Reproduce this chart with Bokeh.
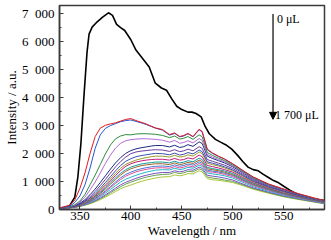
from bokeh.plotting import figure
from bokeh.models import FixedTicker, CustomJSTickFormatter, Arrow, NormalHead, Label
from bokeh.embed import file_html
from bokeh.resources import INLINE

# ---- data ----
black_wl = [330, 335, 340, 345, 348, 351, 354, 357, 359, 362, 367, 372, 378, 382, 386, 390, 394,
            400, 405, 410, 418, 424, 430, 435, 440, 445, 450, 456, 460, 464, 469, 473, 477, 483,
            488, 493, 499, 505, 510, 515, 520, 525, 530, 535, 540, 545, 550, 556, 560, 565, 570,
            575, 580, 585, 590]
black_int = [30, 60, 140, 440, 1150, 2350, 4050, 5600, 6250, 6500, 6690, 6850, 7010, 6920, 6600,
             6480, 6380, 6050, 5680, 5450, 5080, 4500, 4330, 4250, 3950, 3680, 3560, 3470, 3470,
             3420, 3300, 2950, 2700, 2500, 2400, 2310, 2150, 1920, 1700, 1510, 1420, 1380, 1250,
             1140, 1030, 950, 830, 690, 610, 510, 450, 420, 380, 350, 320]

wl = [330, 340, 345, 350, 355, 360, 365, 370, 375, 380, 385, 390, 395,
      400, 405, 410, 415, 420, 424, 431, 438, 443, 448, 452, 456, 461, 467, 470, 475,
      480, 486, 492, 500, 510, 520, 535, 550, 565, 580, 590]

c100 = [60, 150, 340, 750, 1300, 2000, 2600, 2900, 3000, 3050, 3090, 3150, 3210,
        3240, 3170, 3110, 3050, 2970, 2910, 2850, 2670, 2730, 2600, 2640, 2710, 2600, 2860, 2780, 2150,
        2020, 1900, 1800, 1630, 1390, 1160, 910, 730, 560, 410, 320]
c200 = [55, 120, 250, 480, 880, 1480, 2180, 2660, 2890, 2990, 3060, 3130, 3170,
        3190, 3140, 3090, 3030, 2960, 2900, 2830, 2650, 2710, 2590, 2620, 2700, 2590, 2840, 2760, 2130,
        2000, 1890, 1790, 1620, 1380, 1150, 900, 720, 550, 400, 315]
c300 = [50, 100, 170, 300, 540, 880, 1230, 1600, 1980, 2300, 2520, 2620, 2670,
        2660, 2690, 2700, 2700, 2690, 2680, 2640, 2560, 2620, 2510, 2540, 2600, 2500, 2660, 2590, 2030,
        1930, 1830, 1740, 1580, 1350, 1120, 880, 710, 540, 390, 305]
c400 = [48, 90, 150, 260, 440, 700, 980, 1300, 1640, 1940, 2190, 2360, 2450,
        2490, 2510, 2520, 2520, 2510, 2500, 2470, 2400, 2460, 2360, 2390, 2450, 2370, 2530, 2460, 1960,
        1870, 1780, 1700, 1550, 1320, 1100, 860, 690, 530, 385, 300]
c500 = [45, 85, 135, 220, 350, 530, 730, 960, 1200, 1440, 1660, 1850, 2000,
        2100, 2160, 2200, 2230, 2260, 2280, 2280, 2230, 2290, 2210, 2240, 2310, 2250, 2410, 2350, 1900,
        1820, 1740, 1660, 1520, 1300, 1080, 850, 680, 520, 380, 295]
c600 = [45, 80, 125, 200, 310, 460, 640, 850, 1070, 1300, 1520, 1710, 1870,
        1990, 2050, 2080, 2100, 2120, 2130, 2120, 2070, 2130, 2060, 2090, 2150, 2090, 2240, 2180, 1780,
        1720, 1650, 1580, 1460, 1250, 1040, 820, 660, 505, 370, 290]
c700 = [42, 75, 115, 180, 280, 410, 570, 760, 960, 1170, 1380, 1570, 1720,
        1810, 1880, 1920, 1950, 1980, 2000, 1990, 1950, 2010, 1940, 1970, 2030, 1980, 2120, 2060, 1700,
        1650, 1590, 1520, 1410, 1210, 1010, 800, 640, 490, 360, 285]
c800 = [42, 72, 110, 170, 260, 380, 530, 700, 890, 1090, 1290, 1470, 1610,
        1690, 1760, 1810, 1850, 1880, 1900, 1900, 1870, 1930, 1870, 1890, 1950, 1900, 2050, 1990, 1650,
        1600, 1550, 1480, 1380, 1180, 990, 780, 620, 480, 355, 275]
c900 = [40, 70, 105, 160, 245, 355, 490, 650, 830, 1020, 1210, 1390, 1540,
        1630, 1690, 1730, 1760, 1780, 1790, 1790, 1760, 1820, 1760, 1780, 1840, 1800, 1940, 1880, 1570,
        1530, 1480, 1420, 1330, 1140, 960, 760, 600, 465, 345, 270]
c1000 = [40, 68, 100, 150, 230, 330, 455, 600, 770, 950, 1130, 1290, 1420,
         1510, 1570, 1620, 1650, 1670, 1690, 1690, 1660, 1720, 1660, 1690, 1740, 1700, 1830, 1780, 1500,
         1460, 1420, 1370, 1280, 1100, 930, 740, 580, 450, 335, 262]
c1100 = [38, 66, 97, 145, 220, 315, 430, 570, 730, 900, 1070, 1230, 1360,
         1450, 1510, 1560, 1590, 1610, 1630, 1630, 1600, 1660, 1600, 1630, 1680, 1640, 1760, 1710, 1450,
         1420, 1380, 1330, 1240, 1070, 900, 720, 565, 440, 325, 255]
c1200 = [38, 64, 93, 138, 205, 290, 395, 520, 665, 820, 980, 1130, 1250,
         1330, 1400, 1450, 1490, 1520, 1540, 1550, 1530, 1590, 1540, 1570, 1620, 1580, 1700, 1650, 1400,
         1370, 1340, 1290, 1210, 1040, 880, 700, 550, 425, 315, 245]
c1300 = [36, 62, 90, 132, 195, 275, 375, 495, 630, 780, 930, 1070, 1190,
         1270, 1340, 1390, 1430, 1460, 1480, 1490, 1470, 1530, 1480, 1510, 1560, 1520, 1640, 1590, 1350,
         1330, 1300, 1250, 1170, 1010, 850, 680, 535, 410, 305, 238]
c1400 = [35, 60, 86, 125, 183, 255, 345, 455, 580, 715, 850, 980, 1080,
         1150, 1220, 1280, 1330, 1370, 1400, 1420, 1410, 1470, 1420, 1450, 1500, 1470, 1580, 1540, 1300,
         1270, 1240, 1200, 1120, 970, 810, 650, 510, 395, 292, 226]
c1500 = [34, 58, 82, 118, 170, 235, 315, 410, 520, 640, 760, 880, 970,
         1040, 1110, 1170, 1220, 1260, 1290, 1320, 1320, 1380, 1340, 1370, 1420, 1400, 1510, 1470, 1220,
         1190, 1160, 1120, 1050, 910, 770, 620, 485, 380, 282, 218]
c1600 = [33, 56, 80, 114, 162, 222, 295, 385, 485, 595, 705, 815, 905,
         975, 1040, 1100, 1150, 1190, 1220, 1250, 1260, 1320, 1280, 1310, 1360, 1340, 1450, 1410, 1160,
         1120, 1090, 1050, 1000, 880, 750, 600, 470, 365, 272, 210]
c1700 = [32, 54, 76, 108, 152, 206, 272, 350, 440, 540, 640, 740, 815,
         870, 940, 1000, 1050, 1090, 1120, 1160, 1170, 1230, 1200, 1230, 1280, 1270, 1380, 1340, 1100,
         1060, 1040, 1010, 960, 850, 720, 580, 450, 352, 262, 203]

series = [c100, c200, c300, c400, c500, c600, c700, c800, c900, c1000,
          c1100, c1200, c1300, c1400, c1500, c1600, c1700]
colors = ["#e41a1c", "#2456d6", "#2e8b3e", "#b36ad6", "#1f2a80", "#6b3fa0", "#3a4fb0",
          "#9a9a2a", "#c2187c", "#1a9a9a", "#a0622a", "#4b78d0", "#e0509a", "#20b8c8",
          "#7a50c0", "#6aa050", "#a8c838"]

y_ticks = [0, 1000, 2000, 3000, 4000, 5000, 6000, 7000]
y_minor = [500, 1500, 2500, 3500, 4500, 5500, 6500]
x_ticks = [350, 400, 450, 500, 550]
x_minor = [375, 425, 475, 525, 575]

FONT = "Liberation Serif"

p = figure(width=331, height=240, x_range=(330, 590), y_range=(0, 7270),
           output_backend="svg", toolbar_location=None,
           min_border_left=51, min_border_right=7, min_border_top=5, min_border_bottom=31)
p.grid.visible = False
p.outline_line_color = "#3a3a3a"
p.outline_line_width = 1.5
p.background_fill_color = "white"
p.border_fill_color = "white"

p.line(black_wl, black_int, line_color="black", line_width=1.6)
for s, c in reversed(list(zip(series, colors))):
    p.line(wl, s, line_color=c, line_width=1.0)

for ax in (p.xaxis[0], p.yaxis[0]):
    ax.axis_line_color = "#3a3a3a"
    ax.axis_line_width = 1.5
    ax.major_tick_in = 4
    ax.major_tick_out = 0
    ax.minor_tick_in = 2
    ax.minor_tick_out = 0
    ax.major_tick_line_color = "#3a3a3a"
    ax.minor_tick_line_color = "#3a3a3a"
    ax.major_label_text_font = FONT
    ax.major_label_text_font_size = "13px"
    ax.major_label_text_color = "black"
    ax.axis_label_text_font = FONT
    ax.axis_label_text_font_size = "13px"
    ax.axis_label_text_font_style = "normal"
    ax.axis_label_text_color = "black"
    ax.axis_label_standoff = 0

p.xaxis.ticker = FixedTicker(ticks=x_ticks, minor_ticks=x_minor)
p.yaxis.ticker = FixedTicker(ticks=y_ticks, minor_ticks=y_minor)
p.xaxis.major_label_standoff = 2
p.yaxis.major_label_standoff = 5
p.yaxis.formatter = CustomJSTickFormatter(code=r"""
var s = Math.round(tick).toString();
return s.replace(/\B(?=(\d{3})+(?!\d))/g, '\u2002');
""")
p.xaxis.axis_label = "Wavelength / nm"
p.yaxis.axis_label = "Intensity / a.u."

p.add_layout(Arrow(end=NormalHead(size=7, fill_color="black", line_color="black"),
                   x_start=539.5, y_start=6964, x_end=539.5, y_end=3214,
                   line_color="black", line_width=1.2))
p.add_layout(Label(x=543.3, y=6800, text="0 μL", text_font=FONT, text_font_size="12px",
                   text_baseline="middle", text_color="black"))
p.add_layout(Label(x=541.5, y=3350, text="1 700 μL", text_font=FONT, text_font_size="12px",
                   text_baseline="middle", text_color="black"))

open("out.html", "w").write(file_html(p, INLINE))
